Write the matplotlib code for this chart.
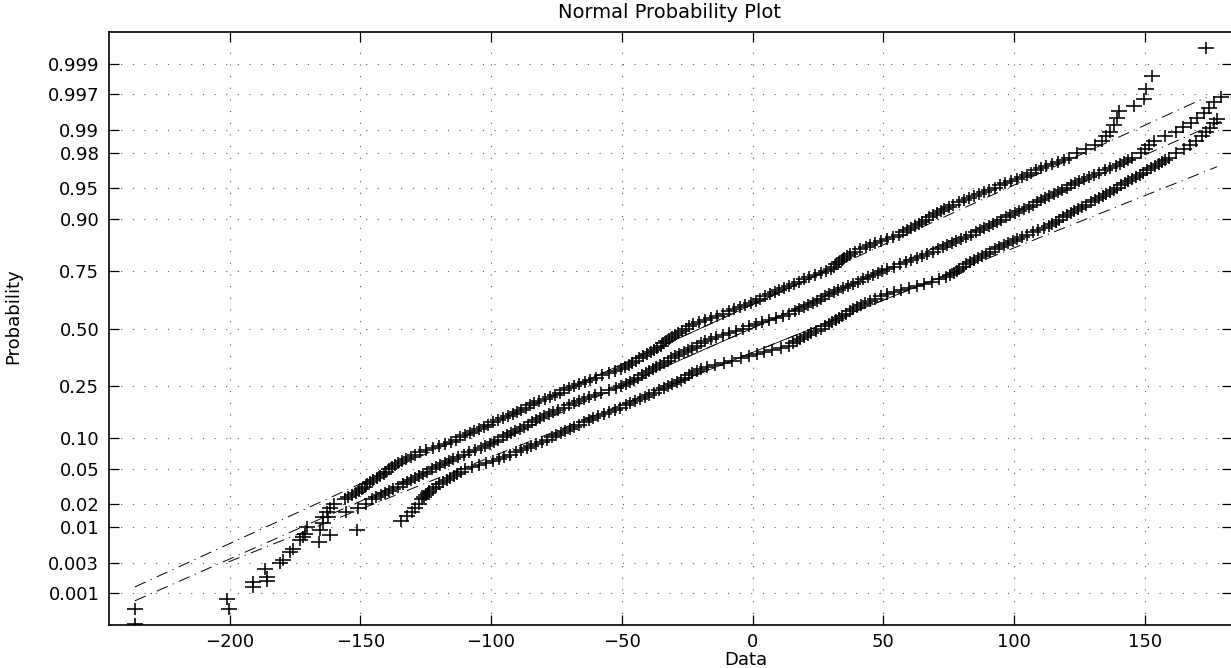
import math
import numpy as np
import matplotlib
matplotlib.use("Agg")
import matplotlib.pyplot as plt
from matplotlib.path import Path

# ---------------- data ----------------
prob_ticks = [0.001, 0.003, 0.01, 0.02, 0.05, 0.10, 0.25, 0.50, 0.75,
              0.90, 0.95, 0.98, 0.99, 0.997, 0.999]
prob_labels = ['0.001', '0.003', '0.01', '0.02', '0.05', '0.10', '0.25', '0.50',
               '0.75', '0.90', '0.95', '0.98', '0.99', '0.997', '0.999']
x_ticks = [-200, -150, -100, -50, 0, 50, 100, 150]

# sorted sample values read at normal scores -2.0 .. 2.0 (every 0.025)
core_start = -2.0
core_step = 0.025
s1_core = [-156.0, -154.6, -153.2, -151.8, -150.4, -149.3, -148.3, -147.4, -146.4, -145.1,
           -143.8, -142.4, -141.1, -140.0, -138.9, -137.9, -136.8, -135.6, -134.2, -132.6,
           -130.8, -129.0, -127.1, -124.7, -122.3, -119.9, -117.6, -115.5, -113.6, -111.8,
           -110.0, -108.2, -106.4, -104.6, -102.9, -101.1, -99.3, -97.4, -95.6, -93.7,
           -91.8, -90.1, -88.4, -86.7, -85.1, -83.5, -81.8, -79.5, -77.3, -75.6,
           -73.8, -72.0, -70.2, -68.3, -66.3, -64.1, -62.0, -59.7, -57.5, -55.0,
           -52.6, -50.5, -48.7, -47.4, -46.1, -44.7, -43.3, -41.9, -40.5, -39.0,
           -37.6, -36.4, -35.2, -34.2, -33.1, -32.0, -30.9, -29.7, -28.5, -27.1,
           -25.6, -24.4, -22.9, -20.6, -18.3, -15.9, -13.5, -11.3, -9.2, -7.0,
           -4.9, -2.8, -0.7, 1.2, 3.0, 4.7, 6.5, 8.4, 10.2, 12.0,
           13.9, 15.8, 17.7, 19.7, 21.7, 24.0, 26.3, 28.2, 30.0, 31.0,
           32.0, 33.0, 34.0, 35.0, 36.0, 37.4, 39.0, 41.1, 43.2, 45.0,
           46.8, 49.0, 51.2, 53.5, 55.8, 57.5, 59.1, 60.7, 62.2, 63.6,
           64.9, 66.2, 67.6, 69.0, 70.5, 71.9, 73.3, 75.0, 76.8, 78.8,
           80.8, 82.8, 84.8, 86.7, 88.6, 90.5, 92.5, 94.5, 96.6, 98.8,
           101.0, 102.9, 104.8, 106.6, 108.4, 110.2, 112.0, 114.4, 116.8, 118.9,
           120.9]
s1_outer_score = [-3.28, -3.16, -2.97, -2.81, -2.71, -2.575, -2.44, -2.32, -2.205,
                  -2.15, -2.10, -2.05,
                  2.05, 2.10, 2.15, 2.20, 2.25, 2.30,
                  2.38, 2.46, 2.54, 2.60, 2.69, 2.80, 2.96, 3.28]
s1_outer_x = [-236.2, -201.0, -190.9, -186.3, -179.4, -175.6, -171.8, -170.4, -164.1,
              -162.8, -161.5, -160.2,
              124.0, 127.4, 131.0, 133.6, 135.2, 136.8,
              138.1, 139.4, 140.1, 145.8, 149.6, 150.5, 152.8, 173.5]

s2_core = [-145.5, -143.9, -142.2, -140.7, -139.2, -137.4, -135.6, -133.8, -132.0, -130.5,
           -129.1, -127.6, -126.0, -124.4, -122.7, -121.0, -119.4, -117.8, -116.2, -114.4,
           -112.5, -110.4, -108.3, -106.1, -104.0, -102.3, -100.6, -98.9, -97.2, -95.6,
           -94.0, -92.3, -90.7, -89.1, -87.5, -86.0, -84.4, -82.8, -81.3, -79.6,
           -78.0, -76.2, -74.3, -72.3, -70.4, -68.4, -66.4, -64.4, -62.4, -60.1,
           -57.8, -55.1, -52.4, -50.3, -48.3, -46.7, -45.2, -43.7, -42.3, -40.9,
           -39.5, -38.1, -36.8, -35.3, -33.9, -32.5, -31.1, -29.5, -28.0, -26.3,
           -24.6, -23.0, -21.4, -19.8, -18.3, -16.1, -13.9, -11.4, -8.9, -6.3,
           -3.8, -1.3, 1.2, 3.7, 6.3, 9.0, 11.7, 14.0, 16.2, 17.9,
           19.6, 21.2, 22.9, 24.5, 26.2, 27.7, 29.3, 31.0, 32.8, 34.6,
           36.4, 38.3, 40.2, 42.1, 44.1, 45.9, 47.8, 49.6, 51.5, 54.0,
           56.5, 58.5, 60.6, 62.7, 64.8, 66.8, 68.9, 70.8, 72.8, 74.5,
           76.2, 77.9, 79.6, 81.6, 83.6, 85.3, 87.1, 88.6, 90.2, 91.8,
           93.4, 95.1, 96.8, 98.5, 100.2, 102.0, 103.8, 105.5, 107.2, 108.7,
           110.3, 111.8, 113.4, 115.1, 116.8, 118.4, 120.1, 121.6, 123.2, 124.9,
           126.6, 128.5, 130.5, 132.6, 134.8, 136.8, 138.8, 140.3, 141.9, 143.5,
           145.1]
s2_outer_score = [-3.46, -3.02, -2.95, -2.75, -2.61, -2.48, -2.40, -2.36, -2.28, -2.205,
                  -2.15, -2.10, -2.05,
                  2.05, 2.10, 2.15, 2.20, 2.25, 2.30,
                  2.36, 2.40, 2.46, 2.52, 2.58, 2.65, 2.71]
s2_outer_x = [-236.2, -190.9, -185.7, -180.6, -176.9, -172.9, -171.1, -165.3, -164.1, -162.2,
              -155.3, -151.0, -148.0,
              148.4, 150.0, 151.6, 153.5, 157.8, 161.8,
              164.5, 167.6, 170.0, 172.6, 174.5, 176.4, 179.0]

s3_core = [-126.4, -125.7, -125.0, -124.3, -123.6, -122.4, -121.2, -119.8, -118.4, -117.0,
           -115.7, -114.3, -112.9, -111.4, -109.8, -107.2, -104.6, -101.9, -99.3, -97.1,
           -95.0, -92.8, -90.6, -88.5, -86.4, -84.6, -82.8, -80.7, -78.6, -76.8,
           -75.0, -73.3, -71.6, -69.9, -68.2, -66.4, -64.6, -62.7, -60.9, -59.0,
           -57.0, -54.8, -52.7, -50.6, -48.6, -46.7, -44.9, -43.1, -41.3, -39.5,
           -37.7, -35.8, -33.9, -32.3, -30.7, -29.1, -27.5, -26.0, -24.5, -23.0,
           -21.4, -19.6, -17.5, -14.3, -11.0, -7.7, -4.5, -1.5, 1.5, 4.4,
           7.4, 10.7, 13.9, 15.4, 16.8, 18.1, 19.5, 21.0, 22.5, 24.4,
           26.2, 27.7, 29.2, 30.5, 31.8, 33.0, 34.3, 35.7, 37.1, 38.4,
           39.8, 41.3, 42.9, 44.9, 46.9, 49.1, 51.4, 54.1, 56.8, 59.8,
           62.7, 65.6, 68.5, 71.3, 74.0, 75.5, 76.9, 78.0, 79.0, 80.3,
           81.7, 83.1, 84.6, 86.1, 87.6, 89.2, 90.8, 92.5, 94.2, 96.0,
           97.7, 99.4, 101.1, 103.0, 105.0, 107.2, 109.3, 111.3, 113.2, 114.6,
           116.0, 117.3, 118.7, 120.1, 121.6, 123.0, 124.5, 126.0, 127.6, 129.2,
           130.8, 132.3, 133.8, 135.2, 136.7, 138.1, 139.5, 140.9, 142.3, 143.7,
           145.2, 146.6, 148.0, 149.3, 150.7, 152.3, 153.9, 155.2, 156.5, 157.8,
           159.2]
s3_outer_score = [-3.28, -2.91, -2.50, -2.42, -2.353,
                  -2.25, -2.20, -2.15, -2.10, -2.05,
                  2.05, 2.10, 2.15, 2.20, 2.25, 2.30, 2.35, 2.40, 2.45]
s3_outer_x = [-200.4, -185.7, -165.8, -161.5, -151.3,
              -134.5, -132.2, -130.2, -129.0, -127.6,
              162.0, 164.9, 167.2, 169.4, 171.7, 173.3, 174.9, 176.3, 177.6]


def norm_ppf(p):
    lo, hi = -12.0, 12.0
    for _ in range(200):
        mid = 0.5 * (lo + hi)
        if 0.5 * (1.0 + math.erf(mid / math.sqrt(2.0))) < p:
            lo = mid
        else:
            hi = mid
    return 0.5 * (lo + hi)


def series(core, outer_s, outer_x):
    s = core_start + core_step * np.arange(len(core))
    zz = np.concatenate([s, np.array(outer_s)])
    xx = np.concatenate([np.array(core), np.array(outer_x)])
    order = np.argsort(zz)
    return xx[order], zz[order]


plt.rcParams['font.family'] = ['DejaVu Sans']
plt.rcParams['lines.scale_dashes'] = False

fig = plt.figure(figsize=(12.31, 6.68), dpi=100)
ax = fig.add_axes([109 / 1231, 43 / 668, 1123 / 1231, 593 / 668])

plus = Path([[-1.0, 0.0], [1.0, 0.0], [0.0, -0.75], [0.0, 0.75]],
            [Path.MOVETO, Path.LINETO, Path.MOVETO, Path.LINETO])

q = norm_ppf(0.75)
for core, os_, ox in [(s1_core, s1_outer_score, s1_outer_x),
                      (s2_core, s2_outer_score, s2_outer_x),
                      (s3_core, s3_outer_score, s3_outer_x)]:
    xx, zz = series(core, os_, ox)
    ax.plot(xx, zz, linestyle='none', marker=plus, markersize=11,
            markeredgewidth=1.15, color='black', zorder=2)
    # reference line through first and third quartiles
    q1 = np.interp(-q, zz, xx)
    q3 = np.interp(q, zz, xx)
    slope = 2 * q / (q3 - q1)
    xe = np.array([xx.min(), xx.max()])
    ax.plot(xe, -q + (xe - q1) * slope, color='black', lw=0.7,
            linestyle=(0, (8.5, 4.0, 0.8, 4.0)), zorder=3)
    xm = np.array([q1, q3])
    ax.plot(xm, -q + (xm - q1) * slope, color='black', lw=0.6, zorder=3)

ax.set_xlim(-246.1, 183.3)
ax.set_ylim(-3.47, 3.47)
ax.set_yticks([norm_ppf(p) for p in prob_ticks])
ax.set_yticklabels(prob_labels)
ax.set_xticks(x_ticks)

ax.grid(True, color='0.35', linewidth=0.8, linestyle=(0, (0.8, 7.6)))
ax.set_axisbelow(True)
ax.tick_params(direction='in', length=7.5, width=0.9, top=True, right=True,
               labelsize=13, colors='black')
ax.tick_params(axis='x', pad=5.5)
ax.tick_params(axis='y', pad=7)
for sp in ax.spines.values():
    sp.set_linewidth(1.2)

ax.set_xlabel('Data', fontsize=13)
ax.xaxis.set_label_coords((746 - 109) / 1123, -0.044)
ax.set_ylabel('Probability', fontsize=13)
ax.yaxis.set_label_coords(-0.0775, 0.521)
fig.text(670 / 1231, 1 - 12 / 668, 'Normal Probability Plot', fontsize=14,
         ha='center', va='center')

fig.savefig('out.png', dpi=100)
